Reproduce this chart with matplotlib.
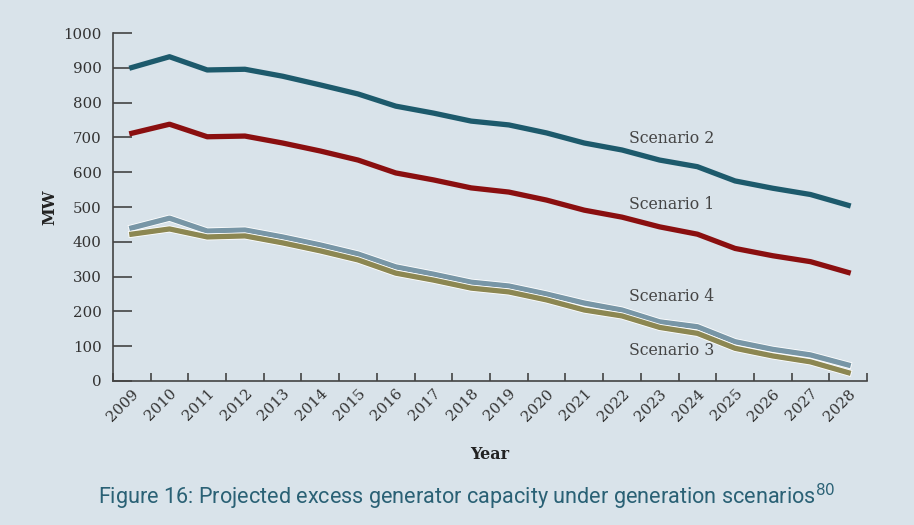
import numpy as np
import matplotlib.pyplot as plt
import matplotlib.patheffects as pe
from matplotlib.transforms import ScaledTranslation

years = [str(y) for y in range(2009, 2029)]

scenario_2 = [901, 932, 894, 896, 876, 851, 825, 790, 770, 747,
              736, 713, 684, 664, 635, 616, 575, 554, 536, 505]
scenario_1 = [712, 738, 702, 704, 684, 661, 635, 598, 578, 555,
              543, 520, 491, 471, 443, 422, 381, 360, 343, 312]
scenario_4 = [440, 468, 431, 434, 414, 391, 365, 328, 307, 284,
              273, 250, 224, 204, 170, 156, 113, 91, 75, 46]
scenario_3 = [422, 437, 414, 417, 397, 374, 348, 310, 290, 267,
              256, 233, 204, 187, 154, 137, 94, 72, 55, 24]

bg = '#d9e3ea'
serif = 'DejaVu Serif'

fig = plt.figure(figsize=(9.14, 5.25), dpi=100, facecolor=bg)
ax = fig.add_axes([0.1236, 0.2743, 0.825, 0.6627], facecolor=bg)

x = np.arange(len(years))
outline = [pe.Stroke(linewidth=5.0, foreground='white'), pe.Normal()]

ax.plot(x, scenario_2, color='#1d5a6c', lw=3.8, solid_joinstyle='round')
ax.plot(x, scenario_1, color='#8a0f10', lw=3.8, solid_joinstyle='round')
ax.plot(x, scenario_4, color='#7896a6', lw=3.8, path_effects=outline)
ax.plot(x, scenario_3, color='#8c8752', lw=3.8, path_effects=outline)

lab_kw = dict(fontsize=11.3, color='#444444', family=serif, va='center', ha='left')
ax.text(13.2, 698, 'Scenario 2', **lab_kw)
ax.text(13.2, 506, 'Scenario 1', **lab_kw)
ax.text(13.2, 244, 'Scenario 4', **lab_kw)
ax.text(13.2, 89, 'Scenario 3', **lab_kw)

ax.set_xlim(-0.5, len(years) - 0.5)
ax.set_ylim(0, 1000)

ax.set_yticks(np.arange(0, 1001, 100))
ax.set_xticks(np.arange(-0.5, len(years), 1.0))
ax.set_xticklabels([])
ax.set_xticks(x, minor=True)
ax.set_xticklabels(years, minor=True, rotation=45, ha='right',
                   rotation_mode='anchor', fontsize=10.8, family=serif, color='#333333')
for lbl in ax.get_xticklabels(minor=True):
    lbl.set_transform(lbl.get_transform() + ScaledTranslation(0.14, -0.02, fig.dpi_scale_trans))

ax.tick_params(axis='y', direction='in', length=13.5, width=1.2, color='#444444',
               labelsize=10.8, labelcolor='#333333', pad=8)
ax.tick_params(axis='x', which='major', direction='in', length=6, width=1.2, color='#444444')
ax.tick_params(axis='x', which='minor', length=0, pad=4)
for lbl in ax.get_yticklabels():
    lbl.set_family(serif)

for s in ['top', 'right']:
    ax.spines[s].set_visible(False)
for s in ['left', 'bottom']:
    ax.spines[s].set_color('#444444')
    ax.spines[s].set_linewidth(1.2)

ax.set_ylabel('MW', fontsize=11.5, fontweight='bold', family=serif, color='#222222', labelpad=4)
ax.set_xlabel('Year', fontsize=11.5, fontweight='bold', family=serif, color='#222222', labelpad=16)

fig.text(0.107, 0.04, 'Figure 16: Projected excess generator capacity under generation scenarios$^{80}$',
         fontsize=15.6, color='#2a6175', family=['Roboto', 'DejaVu Sans'],
         ha='left', va='baseline')

fig.savefig('out.png', dpi=100, facecolor=bg)
